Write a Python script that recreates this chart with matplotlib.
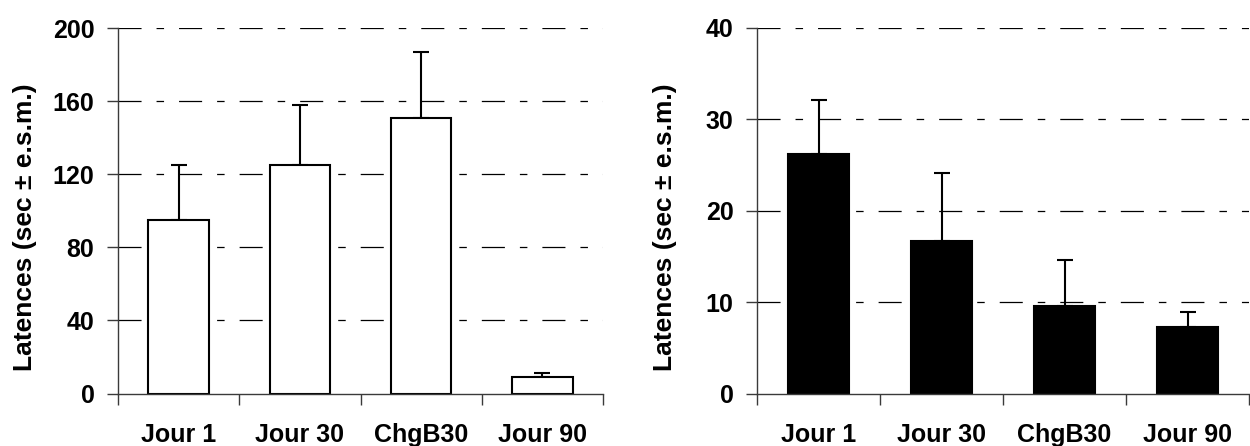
import matplotlib
matplotlib.use("Agg")
import matplotlib.pyplot as plt

plt.rcParams["font.family"] = ["Liberation Sans", "DejaVu Sans"]
plt.rcParams["font.weight"] = "bold"
plt.rcParams["lines.scale_dashes"] = False

categories = ["Jour 1", "Jour 30", "ChgB30", "Jour 90"]

# Panel A: mean latencies and standard errors
latency_a = [95, 125, 151, 9]
sem_a = [30, 33, 36, 2]
yticks_a = [0, 40, 80, 120, 160, 200]

# Panel B: mean latencies and standard errors
latency_b = [26.2, 16.7, 9.6, 7.3]
sem_b = [5.9, 7.4, 5.0, 1.6]
yticks_b = [0, 10, 20, 30, 40]

ylabel = "Latences (sec \u00b1 e.s.m.)"

W, H = 1250, 446
fig = plt.figure(figsize=(W / 100, H / 100), dpi=100)

bottom = (H - 393.5) / H
height = 365.5 / H
ax_a = fig.add_axes([118 / W, bottom, 485 / W, height])
ax_b = fig.add_axes([757 / W, bottom, 492 / W, height])

grid_dash = (0, (16.6, 10.8, 5.4, 10.8))
axis_color = "#3a3a3a"


def draw_panel(ax, values, errors, yticks, face):
    x = list(range(len(categories)))
    ax.bar(x, values, width=0.5, color=face, edgecolor="black",
           linewidth=1.5, zorder=2)
    ax.errorbar(x, values, yerr=[[0] * len(errors), errors], fmt="none",
                ecolor="black", elinewidth=1.5, capsize=5.8, capthick=1.5,
                zorder=1.5)
    for t in yticks[1:]:
        ax.axhline(t, color="black", linewidth=0.9, linestyle=grid_dash,
                   zorder=0.5)
    ax.set_xlim(-0.5, len(categories) - 0.5)
    ax.set_ylim(yticks[0], yticks[-1])
    ax.set_yticks(yticks)
    ax.set_yticklabels([str(t) for t in yticks], fontsize=18,
                       fontweight="bold")
    # category boundaries carry the tick marks, labels sit at the centres
    ax.set_xticks([i - 0.5 for i in range(len(categories) + 1)])
    ax.set_xticklabels([])
    ax.set_xticks(x, minor=True)
    ax.set_xticklabels(categories, minor=True, fontsize=18,
                       fontweight="bold")
    ax.tick_params(axis="x", which="major", direction="out", length=8,
                   width=1, color=axis_color)
    ax.tick_params(axis="x", which="minor", length=0, pad=21)
    ax.tick_params(axis="y", direction="out", length=8, width=1,
                   color=axis_color, pad=9)
    for side in ("top", "right"):
        ax.spines[side].set_visible(False)
    for side in ("left", "bottom"):
        ax.spines[side].set_color(axis_color)
        ax.spines[side].set_linewidth(1)


draw_panel(ax_a, latency_a, sem_a, yticks_a, "white")
draw_panel(ax_b, latency_b, sem_b, yticks_b, "black")

fig.text(25 / W, 1 - 227.5 / H, ylabel, rotation=90, ha="center",
         va="center", fontsize=19, fontweight="bold")
fig.text(665 / W, 1 - 227.5 / H, ylabel, rotation=90, ha="center",
         va="center", fontsize=19, fontweight="bold")

fig.savefig("out.png", dpi=100, facecolor="white")
